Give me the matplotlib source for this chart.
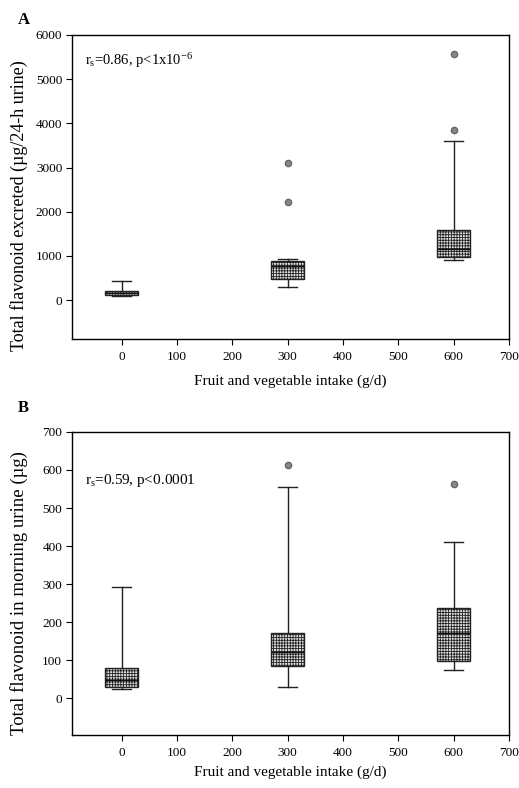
import matplotlib
matplotlib.use("Agg")
import matplotlib.pyplot as plt

plt.rcParams['font.family'] = ['Liberation Serif', 'DejaVu Serif']
plt.rcParams['mathtext.fontset'] = 'custom'
plt.rcParams['mathtext.rm'] = 'Liberation Serif'
plt.rcParams['mathtext.it'] = 'Liberation Serif:italic'
plt.rcParams['hatch.color'] = '#777777'
plt.rcParams['hatch.linewidth'] = 0.6

intake = [0, 300, 600]

# Panel A: total flavonoid excreted (µg/24-h urine)
a_whislo = [100, 300, 905]
a_q1 = [110, 475, 965]
a_med = [160, 770, 1150]
a_q3 = [210, 880, 1580]
a_whishi = [430, 940, 3600]
a_fliers = [[], [2220, 3100], [3850, 5560]]

# Panel B: total flavonoid in morning urine (µg)
b_whislo = [25, 30, 75]
b_q1 = [30, 85, 98]
b_med = [48, 122, 172]
b_q3 = [78, 170, 236]
b_whishi = [293, 556, 410]
b_fliers = [[], [614], [563]]

xticks = [0, 100, 200, 300, 400, 500, 600, 700]
a_yticks = [0, 1000, 2000, 3000, 4000, 5000, 6000]
b_yticks = [0, 100, 200, 300, 400, 500, 600, 700]


def stats(lo, q1, med, q3, hi, fl):
    return [dict(whislo=lo[i], q1=q1[i], med=med[i], q3=q3[i], whishi=hi[i], fliers=fl[i])
            for i in range(len(lo))]


fig = plt.figure(figsize=(5.19, 7.88), dpi=100)
axA = fig.add_axes([0.1387, 0.5698, 0.842, 0.3858])
axB = fig.add_axes([0.1387, 0.0673, 0.842, 0.3845])


def draw(ax, st, ylim, yticks, ylabel, ylab_size, ylab_y, note, note_size, note_y, xlabelpad):
    ax.bxp(st, positions=intake, widths=60, patch_artist=True, showfliers=True,
           boxprops=dict(facecolor='#e0e0e0', edgecolor='#222222', linewidth=1.0, hatch='++++++'),
           medianprops=dict(color='#111111', linewidth=1.0),
           whiskerprops=dict(color='#222222', linewidth=1.0),
           capprops=dict(color='#222222', linewidth=1.0),
           capwidths=35,
           flierprops=dict(marker='o', markersize=4.5, markerfacecolor='#888888',
                           markeredgecolor='#666666'))
    ax.set_xlim(-90, 700)
    ax.set_ylim(*ylim)
    ax.set_xticks(xticks)
    ax.set_xticklabels([str(t) for t in xticks])
    ax.set_yticks(yticks)
    ax.set_yticklabels([str(t) for t in yticks])
    ax.tick_params(labelsize=9.5, length=4, width=0.8, direction='out')
    ax.tick_params(axis='x', pad=5)
    ax.tick_params(axis='y', pad=3)
    for s in ax.spines.values():
        s.set_linewidth(1.0)
    ax.set_xlabel('Fruit and vegetable intake (g/d)', fontsize=11, labelpad=xlabelpad)
    ax.set_ylabel(ylabel, fontsize=ylab_size)
    ax.yaxis.set_label_coords(-0.10, ylab_y)
    ax.text(0.03, note_y, note, transform=ax.transAxes, fontsize=note_size, va='center', ha='left')


draw(axA, stats(a_whislo, a_q1, a_med, a_q3, a_whishi, a_fliers), (-880, 6000), a_yticks,
     'Total flavonoid excreted (µg/24-h urine)', 13, 0.44,
     r'r$_\mathrm{s}$=0.86, p<1x10$^{-6}$', 10.5, 0.915, 8)
draw(axB, stats(b_whislo, b_q1, b_med, b_q3, b_whishi, b_fliers), (-97, 700), b_yticks,
     'Total flavonoid in morning urine (µg)', 13.5, 0.47,
     r'r$_\mathrm{s}$=0.59, p<0.0001', 11, 0.84, 4)

fig.text(18 / 519, 1 - 20 / 788, 'A', fontsize=12, fontweight='bold', va='center')
fig.text(18 / 519, 1 - 408 / 788, 'B', fontsize=12, fontweight='bold', va='center')

fig.savefig('out.png', dpi=100)
